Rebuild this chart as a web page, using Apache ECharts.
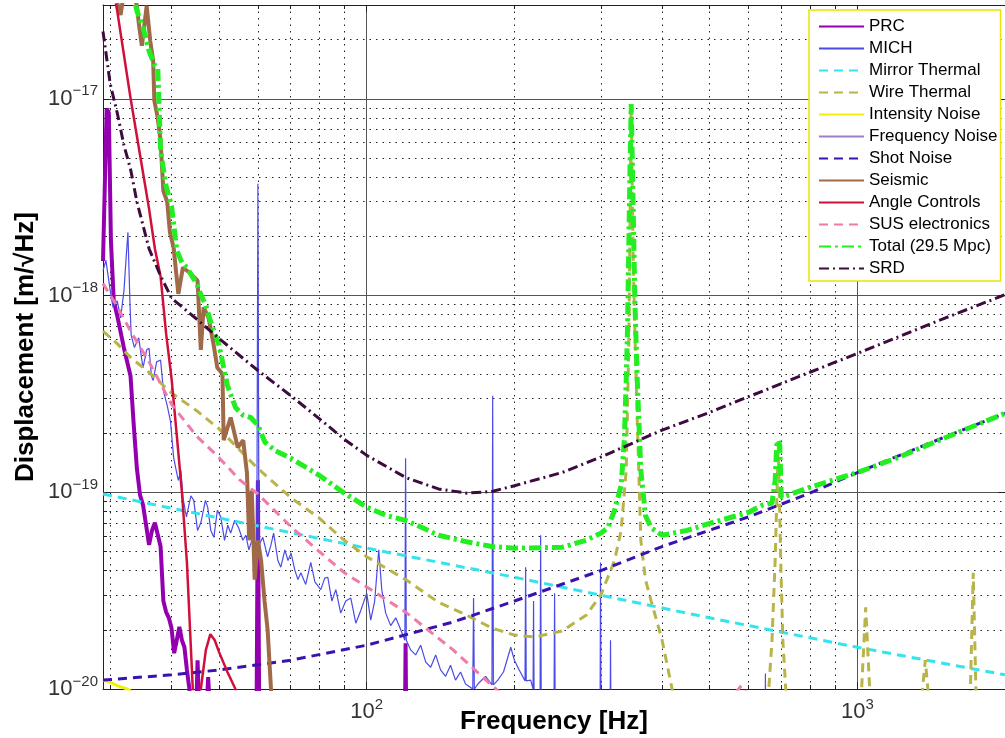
<!DOCTYPE html>
<html>
<head>
<meta charset="utf-8">
<title>Displacement noise budget</title>
<script src="https://cdn.jsdelivr.net/npm/echarts@6/dist/echarts.min.js"></script>
<style>
html, body { margin: 0; padding: 0; background: #ffffff; }
#chart { width: 1005px; height: 738px; }
</style>
</head>
<body>
<div id="chart"></div>
<script>
// noise curves, [frequency Hz, displacement m/rtHz]
const prc = [
    [29, 1.5e-18], [29.5, 8.9e-18], [29.8, 8.5e-18], [30.1, 1.9e-18], [30.5, 9.4e-19], [31, 7.9e-19],
    [32, 5.4e-19], [33, 3.9e-19], [33.5, 2.2e-19], [34, 1.32e-19], [34.5, 9.7e-20], [35, 8.6e-20],
    [36, 5.4e-20], [36.5, 6.4e-20], [37, 7.0e-20], [38, 5.3e-20], [38.5, 2.8e-20], [39, 2.46e-20],
    [39.5, 2.3e-20], [40, 2.04e-20], [40.5, 1.52e-20], [41, 1.77e-20], [41.5, 2.07e-20], [42, 1.77e-20],
    [42.5, 1.63e-20], [43, 1.25e-20], [43.5, 1e-20], [44, 6e-21], [45, 9e-21], [45.2, 1.4e-20],
    [45.7, 6e-21], [47, 6e-21], [47.5, 1.15e-20], [48.2, 6e-21], [59.6, 6e-21], [60, 1.15e-19],
    [60.4, 6e-21], [119.6, 6e-21], [120, 1.71e-20], [120.4, 6e-21], [130, 6e-21]
];
const mich = [
    [29, 1.34e-18], [29.4, 1.51e-18], [30, 1.06e-18], [30.4, 8.7e-19], [31, 9.4e-19], [31.5, 7.7e-19],
    [32, 1.06e-18], [32.3, 1.51e-18], [32.6, 2.1e-18], [32.9, 9.4e-19], [33.1, 6.3e-19], [33.6, 5.45e-19],
    [34.3, 6.1e-19], [34.8, 4.7e-19], [35, 4.3e-19], [35.6, 5.3e-19], [36, 5.4e-19], [36.4, 3.9e-19],
    [36.7, 3.7e-19], [37.3, 4.6e-19], [38, 4.7e-19], [38.5, 3.3e-19], [39.2, 2.76e-19], [39.8, 2.3e-19],
    [40.4, 1.5e-19], [40.9, 1.29e-19], [41.3, 1.15e-19], [41.8, 1.29e-19], [42.2, 9.4e-20], [42.9, 7.5e-20],
    [43.8, 9.6e-20], [44.4, 9.1e-20], [45.2, 6.4e-20], [45.9, 7.0e-20], [46.9, 9.1e-20], [47.4, 8.4e-20],
    [48.1, 6.4e-20], [48.8, 5.9e-20], [49.6, 8.1e-20], [50.4, 7.5e-20], [51.3, 5.7e-20], [52.1, 6.8e-20],
    [52.8, 6.2e-20], [53.8, 7.2e-20], [54.8, 6.6e-20], [55.9, 5.7e-20], [56.7, 6.05e-20], [57.5, 5.1e-20],
    [58.3, 5.7e-20], [59.2, 5.4e-20], [59.7, 5.7e-20], [60, 3.7e-18], [60.3, 5.4e-20], [61.4, 5.9e-20],
    [62.8, 4.7e-20], [63.8, 5.4e-20], [64.6, 6.2e-20], [65.9, 4.5e-20], [66.8, 4.16e-20], [68.1, 5.1e-20],
    [69.1, 4.5e-20], [70.1, 4.9e-20], [71.4, 4.0e-20], [72.4, 3.6e-20], [73.4, 3.9e-20], [75.1, 3.4e-20],
    [76.9, 4.4e-20], [78.4, 3.5e-20], [80.6, 3.2e-20], [82.1, 3.66e-20], [83.3, 3.7e-20], [84.9, 2.8e-20],
    [86.5, 3.2e-20], [88.5, 2.43e-20], [90.6, 2.8e-20], [92.8, 2.9e-20], [95, 2.16e-20], [97.2, 2.5e-20],
    [100, 3.07e-20], [101.9, 2.24e-20], [103.8, 2.8e-20], [105.8, 5.1e-20], [107.3, 3.2e-20], [109.3, 2.43e-20],
    [111.9, 2.1e-20], [114.6, 2.3e-20], [117.3, 2.0e-20], [119.6, 1.77e-20], [120, 1.49e-19], [120.4, 1.77e-20],
    [122.9, 1.58e-20], [125.8, 1.49e-20], [128.8, 1.67e-20], [131.9, 1.37e-20], [135, 1.29e-20], [138.2, 1.49e-20],
    [141.4, 1.25e-20], [144.8, 1.16e-20], [148.2, 1.32e-20], [151.7, 1.11e-20], [155.3, 1.22e-20], [159, 1.06e-20],
    [164.5, 1.0e-20], [165.1, 2.9e-20], [165.7, 1.0e-20], [169, 1.07e-20], [174.7, 1.16e-20], [180, 1.05e-20],
    [180.6, 3.1e-19], [181.2, 1.05e-20], [185, 1.11e-20], [190, 1.22e-20], [196.6, 1.63e-20], [200, 1.4e-20],
    [203.8, 1.27e-20], [210.2, 1.1e-20], [210.8, 4.16e-20], [211.4, 1.1e-20], [215.9, 1.11e-20], [218.3, 1.0e-20],
    [218.8, 2.8e-20], [219.3, 1.0e-20], [221, 1.0e-20], [225.6, 9e-21], [226.2, 6.05e-20], [226.8, 9e-21],
    [231, 9.5e-21], [240.9, 9e-21], [241.5, 3.07e-20], [242.1, 9e-21], [248, 8.5e-21], [299, 8e-21],
    [299.6, 4.4e-20], [300.2, 8e-21], [313.5, 8e-21], [314, 1.77e-20], [314.5, 8e-21], [649, 7e-21],
    [649.6, 1.2e-20], [650.3, 7e-21]
];
const mirrorThermal = [
    [29, 9.8e-20], [50, 7.4e-20], [100, 5.2e-20], [200, 3.7e-20], [500, 2.3e-20], [1000, 1.63e-20], [2000, 1.18e-20]
];
const wireThermal = [
    [29, 6.6e-19], [31, 5.7e-19], [33, 4.85e-19], [36, 4.07e-19], [40, 3.2e-19], [45, 2.6e-19],
    [50, 2.1e-19], [60, 1.32e-19], [70, 9.4e-20], [80, 7.4e-20], [90, 5.7e-20], [100, 4.7e-20],
    [120, 3.6e-20], [140, 2.76e-20], [160, 2.37e-20], [180, 2.04e-20], [200, 1.88e-20], [220, 1.84e-20],
    [250, 1.97e-20], [280, 2.37e-20], [300, 3.0e-20], [320, 4.5e-20], [330, 6.4e-20], [338, 1.29e-19],
    [342, 5.3e-19], [346, 9.4e-18], [349, 1.69e-18], [352, 6.6e-19], [356, 2.3e-19], [362, 5.7e-20],
    [370, 3.6e-20], [380, 2.8e-20], [400, 1.77e-20], [420, 9.8e-21], [450, 6e-21], [600, 5e-21],
    [660, 1e-20], [670, 1.77e-20], [680, 4.5e-20], [690, 1.73e-19], [698, 4.5e-20], [705, 1.77e-20],
    [715, 9.8e-21], [800, 5e-21], [1010, 5e-21], [1020, 9.8e-21], [1040, 2.6e-20], [1060, 9.8e-21],
    [1100, 5e-21], [1340, 5e-21], [1355, 9.5e-21], [1376, 1.4e-20], [1395, 9.5e-21], [1420, 5e-21],
    [1680, 5e-21], [1700, 9.8e-21], [1723, 3.9e-20], [1745, 9.8e-21], [1770, 5e-21], [2000, 5e-21]
];
const intensityNoise = [[29, 1.11e-20], [30, 1.08e-20], [31, 1.04e-20], [32.5, 1.0e-20], [36, 8.5e-21]];
const frequencyNoise = []; // stays below 1e-20, not visible in the plot
const shotNoise = [
    [29, 1.11e-20], [40, 1.18e-20], [50, 1.25e-20], [70, 1.4e-20], [100, 1.67e-20], [150, 2.19e-20],
    [200, 2.8e-20], [300, 4.0e-20], [400, 5.3e-20], [600, 7.5e-20], [800, 9.9e-20], [1000, 1.26e-19],
    [1500, 1.9e-19], [2000, 2.52e-19]
];
const seismic = [
    [29, 5.6e-17], [30, 4e-17], [31, 3.07e-17], [31.5, 2.67e-17], [32, 3.5e-17], [33, 4e-17],
    [34, 2.97e-17], [34.3, 2.43e-17], [34.8, 1.86e-17], [35.6, 2.97e-17], [36.2, 1.97e-17], [36.7, 1.56e-17],
    [36.9, 9.8e-18], [37.5, 8.0e-18], [38, 6.1e-18], [38.5, 3.4e-18], [39.2, 3.0e-18], [39.7, 2.1e-18],
    [40.4, 1.75e-18], [41.3, 1.02e-18], [42.2, 1.39e-18], [43.8, 1.29e-18], [45.2, 1.19e-18], [45.9, 5.3e-19],
    [46.5, 8.7e-19], [47.6, 7.7e-19], [48.7, 5.7e-19], [49.6, 4.3e-19], [50.8, 4.0e-19], [51.1, 1.84e-19],
    [52.8, 2.4e-19], [54.6, 1.69e-19], [56, 1.84e-19], [57, 1.25e-19], [57.6, 5.7e-20], [58.3, 1.02e-19],
    [59.1, 3.6e-20], [60, 5.7e-20], [60.9, 4.5e-20], [61.9, 2.8e-20], [62.8, 2.0e-20], [63.8, 1e-20],
    [64.3, 7e-21]
];
const angleControls = [
    [29, 7.1e-17], [31, 2.8e-17], [33, 1.01e-17], [35, 4.2e-18], [36, 2.76e-18], [37, 1.73e-18],
    [38, 1.25e-18], [39, 6.4e-19], [40, 3.8e-19], [41, 1.95e-19], [42, 1e-19], [43, 4.4e-20],
    [44.2, 1e-20], [45, 6e-21], [45.9, 1e-20], [47, 1.58e-20], [48, 1.9e-20], [49, 1.77e-20],
    [50, 1.54e-20], [52, 1.22e-20], [54, 1e-20], [55, 8e-21]
];
const susElectronics = [
    [29, 1.15e-18], [31, 8.8e-19], [33, 6.6e-19], [36, 4.6e-19], [40, 2.8e-19], [45, 1.93e-19],
    [50, 1.5e-19], [55, 1.16e-19], [60, 9.8e-20], [70, 6.7e-20], [80, 5.0e-20], [90, 3.9e-20],
    [100, 3.3e-20], [120, 2.46e-20], [150, 1.58e-20], [180, 1.04e-20], [200, 8.3e-21], [250, 5e-21],
    [500, 5e-21], [560, 9.3e-21], [580, 1.04e-20], [600, 9.3e-21], [700, 6e-21]
];
const total = [
    [29, 6e-17], [33, 4e-17], [34, 2.8e-17], [35, 2.3e-17], [36, 1.75e-17], [37, 1.47e-17],
    [37.5, 1.44e-17], [38, 5.45e-18], [39, 3.6e-18], [40, 2.86e-18], [41, 1.7e-18], [42, 1.47e-18],
    [43, 1.39e-18], [44, 1.26e-18], [45, 1.15e-18], [46, 1e-18], [47, 8.9e-19], [48, 7.46e-19],
    [50, 5.58e-19], [52, 3.49e-19], [54, 2.7e-19], [56, 2.46e-19], [58, 2.4e-19], [60, 2.19e-19],
    [62, 1.8e-19], [65, 1.63e-19], [70, 1.49e-19], [80, 1.22e-19], [90, 9.9e-20], [100, 8.4e-20],
    [110, 7.6e-20], [120, 7.2e-20], [130, 6.6e-20], [140, 6.05e-20], [160, 5.6e-20], [180, 5.3e-20],
    [200, 5.2e-20], [250, 5.25e-20], [280, 5.7e-20], [300, 6.2e-20], [310, 6.6e-20], [320, 8.1e-20],
    [330, 1.08e-19], [335, 1.84e-19], [338, 3.7e-19], [340, 6.6e-19], [342, 1.69e-18], [344, 4.3e-18],
    [346, 9.4e-18], [349, 3.05e-18], [352, 9.4e-19], [356, 3.7e-19], [362, 1.29e-19], [370, 7.6e-20],
    [380, 6.6e-20], [400, 6.05e-20], [450, 6.4e-20], [500, 6.95e-20], [600, 7.9e-20], [640, 8.6e-20],
    [670, 8.8e-20], [680, 1.15e-19], [685, 1.73e-19], [690, 1.84e-19], [695, 1.73e-19], [700, 9.4e-20],
    [800, 1.06e-19], [1000, 1.26e-19], [1200, 1.49e-19], [1500, 1.88e-19], [2000, 2.52e-19]
];
const srd = [
    [29, 2.2e-17], [30, 1.19e-17], [31, 8.5e-18], [32, 5.8e-18], [33, 4.4e-18], [34, 3.0e-18],
    [35, 2.27e-18], [36, 1.73e-18], [38, 1.26e-18], [40, 9.7e-19], [45, 7.6e-19], [50, 6.05e-19],
    [60, 4.16e-19], [70, 3.1e-19], [80, 2.37e-19], [90, 1.86e-19], [100, 1.54e-19], [120, 1.19e-19],
    [140, 1.04e-19], [160, 9.9e-20], [180, 1.01e-19], [200, 1.08e-19], [250, 1.26e-19], [300, 1.51e-19],
    [400, 2.07e-19], [500, 2.55e-19], [700, 3.57e-19], [1000, 5.08e-19], [1500, 7.64e-19], [2000, 1.01e-18]
];

// log axis rounds very small numbers, so plot in units of 1e-20 m/rtHz
const Y_UNIT = 1e-20;
const Y_UNIT_EXP = -20;

const FONT = 'Liberation Sans, Arial, sans-serif';

function scaled(points) {
    return points.map(function (p) { return [p[0], p[1] / Y_UNIT]; });
}

function powLabel(offset) {
    return function (value) {
        const e = Math.log10(value);
        const r = Math.round(e);
        if (Math.abs(e - r) > 1e-6) return '';
        const exp = r + offset;
        return '{b|10}{s|' + (exp < 0 ? '\u2212' + (-exp) : exp) + '}';
    };
}

const labelRich = {
    b: { fontSize: 22, lineHeight: 30, color: '#333', fontFamily: FONT },
    s: { fontSize: 15, verticalAlign: 'top', color: '#333', fontFamily: FONT }
};

function line(name, points, color, width, dash) {
    return {
        name: name,
        type: 'line',
        data: scaled(points),
        symbol: 'none',
        showSymbol: false,
        clip: true,
        lineStyle: { color: color, width: width, type: dash || 'solid' },
        itemStyle: { color: color },
        emphasis: { disabled: true }
    };
}

const chart = echarts.init(document.getElementById('chart'));

const majorGrid = { show: true, lineStyle: { color: '#555', width: 1, type: 'solid' } };
const minorGrid = { show: true, lineStyle: { color: '#222', width: 1, type: [1.5, 5] } };

chart.setOption({
    animation: false,
    backgroundColor: '#fff',
    textStyle: { fontFamily: FONT },
    grid: { left: 103, right: 0, top: 5, bottom: 49, containLabel: false, outerBoundsMode: 'none' },
    legend: {
        orient: 'vertical',
        left: 809,
        top: 10,
        padding: [8, 3, 4, 9],
        itemWidth: 45,
        itemHeight: 17,
        itemGap: 5,
        backgroundColor: '#fff',
        borderColor: '#e6e600',
        borderWidth: 1.5,
        // hide the marker dot that line series add to their legend icon
        itemStyle: { color: 'rgba(0,0,0,0)', borderWidth: 0, opacity: 0 },
        textStyle: { fontSize: 17, lineHeight: 17, color: '#000', fontFamily: FONT },
        data: ['PRC', 'MICH', 'Mirror Thermal', 'Wire Thermal', 'Intensity Noise', 'Frequency Noise',
            'Shot Noise', 'Seismic', 'Angle Controls', 'SUS electronics', 'Total (29.5 Mpc)', 'SRD']
    },
    xAxis: [{
        type: 'log',
        logBase: 10,
        min: 29,
        max: 2000,
        position: 'bottom',
        name: 'Frequency [Hz]',
        nameLocation: 'middle',
        nameGap: 20,
        nameMoveOverlap: false,
        nameTextStyle: { fontSize: 26, fontWeight: 'bold', color: '#000', fontFamily: FONT },
        axisLine: { show: true, lineStyle: { color: '#222', width: 1 } },
        axisTick: { show: true, inside: true, length: 7, lineStyle: { color: '#222' } },
        minorTick: { show: true, splitNumber: 9, length: 4, lineStyle: { color: '#222' } },
        axisLabel: { margin: 8, formatter: powLabel(0), rich: labelRich },
        splitLine: majorGrid,
        minorSplitLine: minorGrid
    }, {
        type: 'log',
        logBase: 10,
        min: 29,
        max: 2000,
        position: 'top',
        axisLine: { show: true, lineStyle: { color: '#222', width: 1 } },
        axisTick: { show: true, inside: true, length: 7, lineStyle: { color: '#222' } },
        minorTick: { show: true, splitNumber: 9, length: 4, lineStyle: { color: '#222' } },
        axisLabel: { show: false },
        splitLine: { show: false }
    }],
    yAxis: [{
        type: 'log',
        logBase: 10,
        min: 1,
        max: 3000,
        position: 'left',
        name: 'Displacement [m/\u221AHz]',
        nameLocation: 'middle',
        nameGap: 64,
        nameMoveOverlap: false,
        nameTextStyle: { fontSize: 26, fontWeight: 'bold', color: '#000', fontFamily: FONT },
        axisLine: { show: true, lineStyle: { color: '#222', width: 1 } },
        axisTick: { show: true, inside: true, length: 7, lineStyle: { color: '#222' } },
        minorTick: { show: true, splitNumber: 9, length: 4, lineStyle: { color: '#222' } },
        axisLabel: { margin: 5, formatter: powLabel(Y_UNIT_EXP), rich: labelRich },
        splitLine: majorGrid,
        minorSplitLine: minorGrid
    }, {
        type: 'log',
        logBase: 10,
        min: 1,
        max: 3000,
        position: 'right',
        axisLine: { show: true, lineStyle: { color: '#222', width: 1 } },
        axisTick: { show: true, inside: true, length: 7, lineStyle: { color: '#222' } },
        axisLabel: { show: false },
        splitLine: { show: false }
    }],
    series: [
        line('PRC', prc, '#9400b0', 4),
        line('MICH', mich, '#4b4be8', 1.2),
        line('Mirror Thermal', mirrorThermal, '#33e4ee', 3, [9, 6]),
        line('Wire Thermal', wireThermal, '#b8b44a', 3, [9, 6]),
        line('Intensity Noise', intensityNoise, '#f2f200', 3),
        line('Frequency Noise', frequencyNoise, '#9a80c8', 3),
        line('Shot Noise', shotNoise, '#3a12b0', 3, [9, 6]),
        line('Seismic', seismic, '#a06a48', 4),
        line('Angle Controls', angleControls, '#d0103a', 2.5),
        line('SUS electronics', susElectronics, '#f07aaa', 3, [9, 6]),
        line('Total (29.5 Mpc)', total, '#22ee22', 5, [12, 4, 3, 4]),
        line('SRD', srd, '#3d0b3d', 3, [10, 4, 2, 4])
    ]
});
</script>
</body>
</html>
